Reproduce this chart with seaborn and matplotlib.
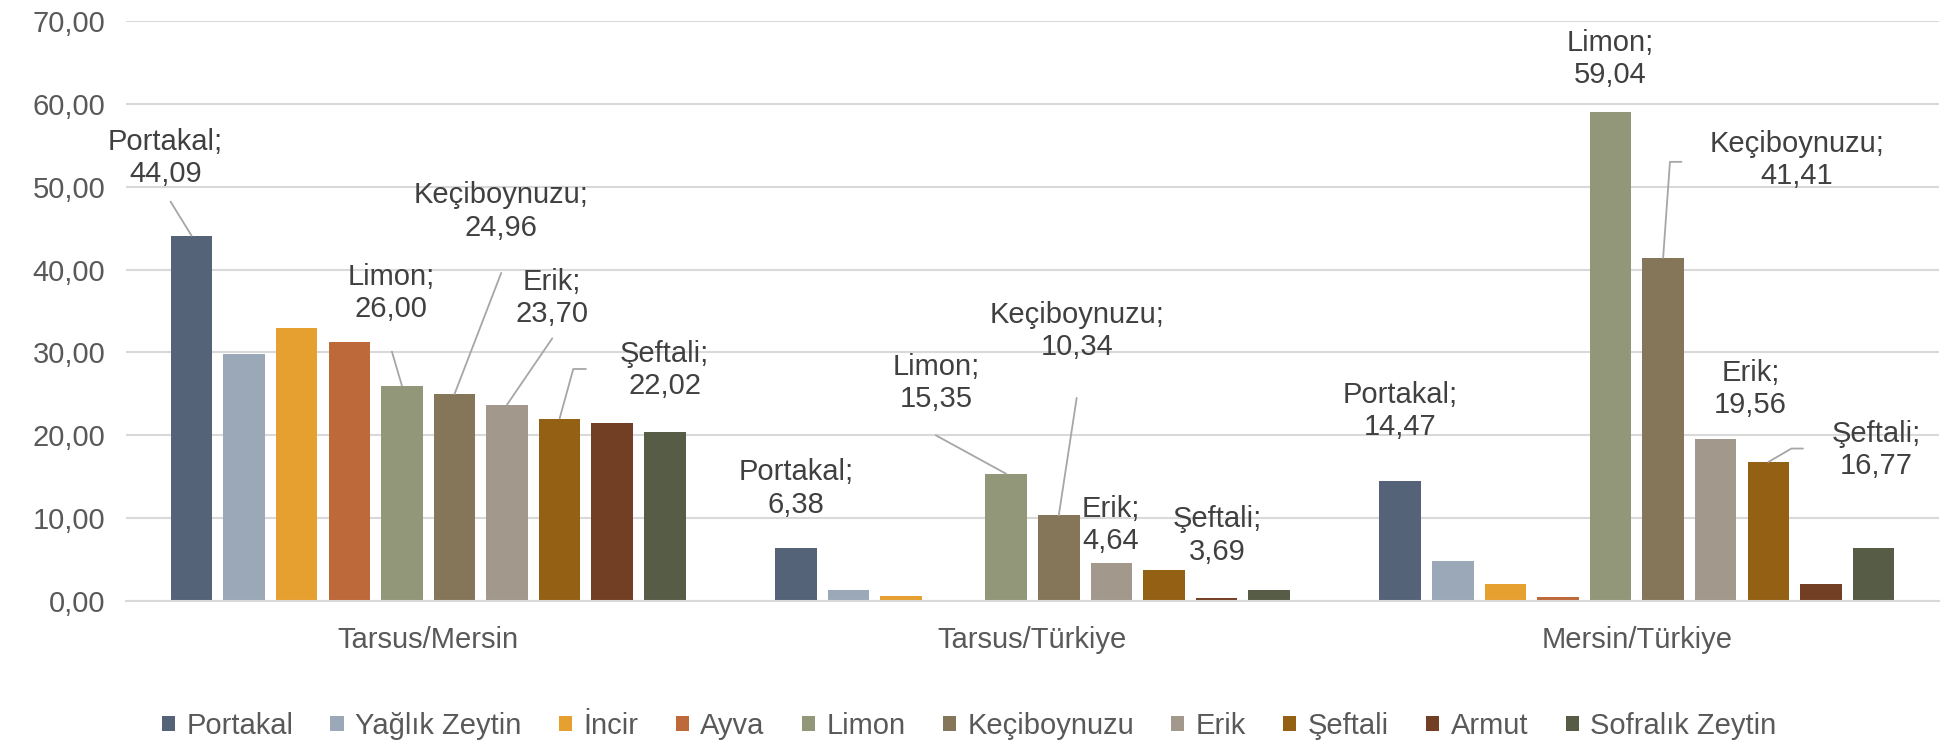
import numpy as np
import pandas as pd
import matplotlib
matplotlib.use("Agg")
import matplotlib.pyplot as plt
import seaborn as sns

# veriler
groups = ["Tarsus/Mersin", "Tarsus/Türkiye", "Mersin/Türkiye"]
series = ["Portakal", "Yağlık Zeytin", "İncir", "Ayva", "Limon",
          "Keçiboynuzu", "Erik", "Şeftali", "Armut", "Sofralık Zeytin"]
portakal = [44.09, 6.38, 14.47]
yaglik_zeytin = [29.86, 1.37, 4.81]
incir = [32.95, 0.64, 2.05]
ayva = [31.29, 0.0, 0.48]
limon = [26.00, 15.35, 59.04]
keciboynuzu = [24.96, 10.34, 41.41]
erik = [23.70, 4.64, 19.56]
seftali = [22.02, 3.69, 16.77]
armut = [21.48, 0.36, 2.05]
sofralik_zeytin = [20.38, 1.29, 6.43]
values = [portakal, yaglik_zeytin, incir, ayva, limon,
          keciboynuzu, erik, seftali, armut, sofralik_zeytin]

colors = ["#546377", "#9AA8B8", "#E5A030", "#BE693A", "#93977A",
          "#857659", "#A2998C", "#936014", "#733F24", "#575C47"]

# etiket yerleşimi: (grup, seri) -> (x kayması [bar aralığı], metin y, kılavuz çizgi)
label_layout = {
    (0, "Portakal"): (-0.50, 53.5, [(-0.40, 48.2)]),
    (0, "Limon"): (-0.21, 37.2, [(-0.19, 30.1)]),
    (0, "Keçiboynuzu"): (0.89, 47.0, [(0.89, 39.6)]),
    (0, "Erik"): (0.86, 36.6, [(0.86, 31.7)]),
    (0, "Şeftali"): (2.0, 27.9, [(0.26, 28.0), (0.50, 28.0)]),
    (1, "Portakal"): (0.0, 13.6, []),
    (1, "Limon"): (-1.34, 26.3, [(-1.34, 20.0)]),
    (1, "Keçiboynuzu"): (0.34, 32.6, [(0.34, 24.5)]),
    (1, "Erik"): (-0.01, 9.2, []),
    (1, "Şeftali"): (1.02, 7.9, []),
    (2, "Portakal"): (0.0, 22.9, []),
    (2, "Limon"): (0.0, 65.4, []),
    (2, "Keçiboynuzu"): (2.54, 53.2, [(0.13, 53.0), (0.35, 53.0)]),
    (2, "Erik"): (0.66, 25.6, []),
    (2, "Şeftali"): (2.05, 18.2, [(0.44, 18.4), (0.66, 18.4)]),
}

df = pd.DataFrame({
    "grup": np.repeat([groups], len(series), axis=0).ravel(),
    "urun": np.repeat(series, len(groups)),
    "deger": np.concatenate(values),
})

sns.set_theme(style="white")
plt.rcParams["font.family"] = ["Liberation Sans", "DejaVu Sans"]

fig = plt.figure(figsize=(19.54, 7.46), dpi=100)
ax = fig.add_axes([126 / 1954, 1 - 601 / 746, (1939 - 126) / 1954, (601 - 21) / 746])

sns.barplot(data=df, x="grup", y="deger", hue="urun", order=groups,
            hue_order=series, palette=colors, width=0.87, gap=0.21,
            saturation=1, linewidth=0, ax=ax)

ax.set_xlabel("")
ax.set_ylabel("")
ax.yaxis.grid(True, color="#D9D9D9", lw=1.5)
ax.set_axisbelow(True)
for s in ["left", "top", "right"]:
    ax.spines[s].set_visible(False)
ax.spines["bottom"].set_color("#D9D9D9")
ax.spines["bottom"].set_linewidth(1.5)
ax.tick_params(axis="y", length=0, pad=15, labelsize=21, labelcolor="#595959")
ax.tick_params(axis="x", length=0, pad=18, labelsize=21, labelcolor="#595959")

# veri etiketleri
slot = ax.containers[1][0].get_x() - ax.containers[0][0].get_x()
for (gi, name), (dx, ty, path) in label_layout.items():
    si = series.index(name)
    bar = ax.containers[si][gi]
    bx = bar.get_x() + bar.get_width() / 2
    top = bar.get_height()
    ax.text(bx + dx * slot, ty, f"{name};\n{values[si][gi]:.2f}".replace(".", ","),
            ha="center", va="center", fontsize=21, color="#404040",
            linespacing=1.2, zorder=5)
    if path:
        xs = [bx] + [bx + p[0] * slot for p in path]
        ys = [top] + [p[1] for p in path]
        ax.plot(xs, ys, color="#A6A6A6", lw=1.3, zorder=4)

ax.set_xlim(-0.5, len(groups) - 0.5)
ax.set_ylim(0, 70)
ax.set_yticks(np.arange(0, 71, 10))
ax.set_yticklabels([f"{v:.2f}".replace(".", ",") for v in np.arange(0, 71, 10)])

handles, labels = ax.get_legend_handles_labels()
ax.get_legend().remove()
fig.legend(handles, labels, loc="center", bbox_to_anchor=(0.496, 1 - 726 / 746),
           ncol=10, frameon=False, fontsize=21, labelcolor="#595959",
           handlelength=0.45, handleheight=0.45, handletextpad=0.4,
           columnspacing=1.27)

fig.savefig("out.png", dpi=100)
